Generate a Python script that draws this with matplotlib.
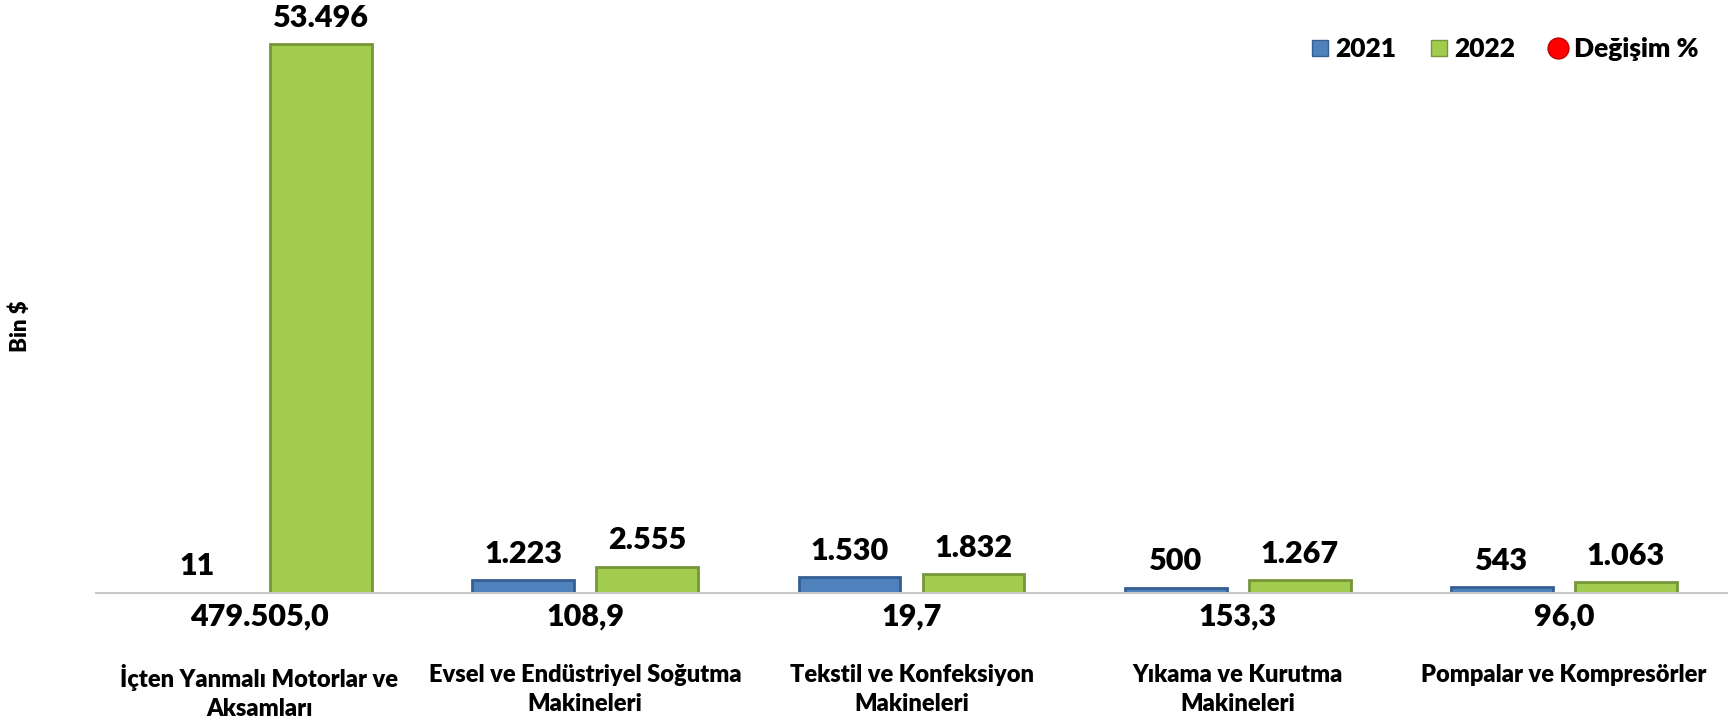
import numpy as np
import matplotlib.pyplot as plt
from matplotlib.lines import Line2D

plt.rcParams['font.family'] = ['Lato', 'DejaVu Sans']
plt.rcParams['font.weight'] = 'heavy'

categories = ['İçten Yanmalı Motorlar ve\nAksamları',
              'Evsel ve Endüstriyel Soğutma\nMakineleri',
              'Tekstil ve Konfeksiyon\nMakineleri',
              'Yıkama ve Kurutma\nMakineleri',
              'Pompalar ve Kompresörler']
v2021 = [11, 1223, 1530, 500, 543]
v2022 = [53496, 2555, 1832, 1267, 1063]
change = [479505.0, 108.9, 19.7, 153.3, 96.0]

def tr_int(v):
    return f'{v:,}'.replace(',', '.')

def tr_dec(v):
    return f'{v:,.1f}'.replace(',', 'X').replace('.', ',').replace('X', '.')

fig = plt.figure(figsize=(17.35, 7.24), dpi=100)
ax = fig.add_axes([96/1735, 131/724, 1631/1735, 593/724])

x = np.arange(len(categories))
w = 0.312
off = 0.19
b1 = ax.bar(x - off, v2021, w, color='#4F81BD', edgecolor='#355E93', linewidth=2)
b2 = ax.bar(x + off, v2022, w, color='#A2CC4E', edgecolor='#76963A', linewidth=2)

ax.set_xlim(-0.5, 4.5)
ax.set_ylim(0, 57800)
for s in ['top', 'right', 'left']:
    ax.spines[s].set_visible(False)
ax.spines['bottom'].set_color('#C8C8C8')
ax.spines['bottom'].set_linewidth(1.5)
ax.set_yticks([])
ax.set_xticks([])

for bars, vals in ((b1, v2021), (b2, v2022)):
    for b, v in zip(bars, vals):
        ax.annotate(tr_int(v), (b.get_x() + b.get_width()/2, v), xytext=(0, 9),
                    textcoords='offset points', ha='center', va='bottom',
                    fontsize=22, fontweight='heavy')

for xi, c in zip(x, change):
    ax.annotate(tr_dec(c), (xi, 0), xytext=(0, -7), textcoords='offset points',
                ha='center', va='top', fontsize=22, fontweight='heavy')

for xi, c in zip(x, categories):
    ax.annotate(c, (xi, 0), xytext=(0, -51), textcoords='offset points',
                ha='center', va='top', fontsize=17, fontweight='heavy', linespacing=1.4)

fig.text(20/1735, 1 - 326/724, 'Bin $', rotation=90, ha='center', va='center',
         fontsize=16, fontweight='heavy')

handles = [Line2D([], [], marker='s', ls='', color='#4F81BD', markeredgecolor='#355E93', markersize=12),
           Line2D([], [], marker='s', ls='', color='#A2CC4E', markeredgecolor='#76963A', markersize=12),
           Line2D([], [], marker='o', ls='', color='#FF0000', markeredgecolor='#C00000', markersize=15)]
fig.legend(handles, ['2021', '2022', 'Değişim %'], loc='upper right', bbox_to_anchor=(1722/1735, 1 - 13/724),
           ncol=3, frameon=False, handletextpad=0.0, columnspacing=1.0, handlelength=1.2,
           prop={'weight': 'heavy', 'size': 19})

fig.savefig('out.png', dpi=100)
